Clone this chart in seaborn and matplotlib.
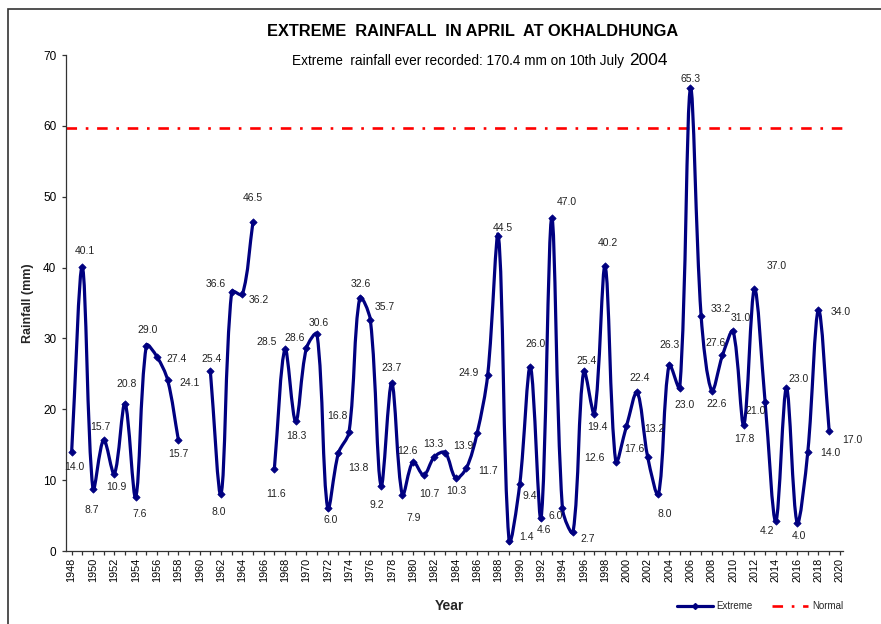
import matplotlib

matplotlib.use("Agg")

import matplotlib.pyplot as plt  # noqa: E402
import numpy as np  # noqa: E402
import seaborn as sns  # noqa: E402
from matplotlib.lines import Line2D  # noqa: E402
from matplotlib.patches import PathPatch, Rectangle  # noqa: E402
from matplotlib.path import Path  # noqa: E402

# Dados (NaN = ano sem registro)
years = list(range(1948, 2020))
rainfall = [
    14.0, 40.1, 8.7, 15.7, 10.9, 20.8, 7.6, 29.0, 27.4, 24.1, 15.7,  # 1948-1958
    np.nan, np.nan,                                                 # 1959-1960
    25.4, 8.0, 36.6, 36.2, 46.5,                                    # 1961-1965
    np.nan,                                                         # 1966
    11.6, 28.5, 18.3, 28.6, 30.6, 6.0, 13.8, 16.8, 35.7, 32.6,      # 1967-1976
    9.2, 23.7, 7.9, 12.6, 10.7, 13.3, 13.9, 10.3, 11.7, 16.6,       # 1977-1986
    24.9, 44.5, 1.4, 9.4, 26.0, 4.6, 47.0, 6.0, 2.7, 25.4,          # 1987-1996
    19.4, 40.2, 12.6, 17.6, 22.4, 13.2, 8.0, 26.3, 23.0, 65.3,      # 1997-2006
    33.2, 22.6, 27.6, 31.0, 17.8, 37.0, 21.0, 4.2, 23.0, 4.0,       # 2007-2016
    14.0, 34.0, 17.0,                                               # 2017-2019
]
unlabelled_years = [1986]
normal_value = 59.7

# Deslocamento (px) de cada rótulo em relação ao ponto: (dx, dy para baixo)
label_offsets = [
    (3, 15), (3, -16), (-1, 21), (-3, -13), (2, 13), (2, -20), (4, 17),
    (1, -16), (20, 2), (22, 3), (0, 14),
    None, None,
    (1, -12), (-2, 18), (-16, -8), (16, 6), (0, -24),
    None,
    (2, 25), (-18, -7), (1, 15), (-12, -10), (2, -11), (3, 12), (20, 15),
    (-12, -16), (25, 9), (-10, -36),
    (-4, 19), (0, -15), (11, 23), (-6, -11), (6, 19), (-1, -13), (18, -7),
    (1, 13), (22, 3), None,
    (-19, -2), (4, -8), (17, -4), (10, 12), (5, -23), (3, 12), (15, -16),
    (-7, 8), (15, 7), (3, -10),
    (3, 13), (3, -23), (-21, -4), (8, 23), (3, -14), (7, -28), (6, 20),
    (0, -20), (5, 17), (0, -9),
    (20, -7), (5, 13), (-7, -12), (8, -13), (1, 14), (22, -23), (-9, 9),
    (-9, 10), (12, -9), (2, 13),
    (23, 1), (22, 2), (23, 9),
]

NAVY = "#000080"
RED = "#ff0000"
INK = "#222222"
W, H = 881, 624

sns.set_style("ticks")
plt.rcParams["font.family"] = ["Liberation Sans", "DejaVu Sans"]

fig = plt.figure(figsize=(W / 100, H / 100), dpi=100)
ax = fig.add_axes([66 / W, 1 - 551 / H, (843 - 66) / W, (551 - 55) / H])
ax.set_xlim(1947.47, 2020.3)
ax.set_ylim(0, 70)


def smooth_path(xs, ys):
    """Curva suavizada estilo Excel: Catmull-Rom com pesos pelas cordas,
    calculada em pixels e devolvida em coordenadas de dados."""
    pts = ax.transData.transform(np.column_stack([xs, ys]))
    n = len(pts)
    verts = [pts[0]]
    codes = [Path.MOVETO]

    def ctrl(i):
        prev, nxt = pts[max(i - 1, 0)], pts[min(i + 1, n - 1)]
        d0 = np.hypot(*(pts[i] - prev))
        d1 = np.hypot(*(nxt - pts[i]))
        t = (nxt - prev) / 3
        tot = d0 + d1
        return pts[i] - t * d0 / tot, pts[i] + t * d1 / tot

    for i in range(n - 1):
        verts += [ctrl(i)[1], ctrl(i + 1)[0], pts[i + 1]]
        codes += [Path.CURVE4] * 3
    verts = ax.transData.inverted().transform(np.array(verts))
    return Path(verts, codes)


x = np.array(years, dtype=float)
y = np.array(rainfall, dtype=float)
valid = ~np.isnan(y)
# segmentos contínuos
edges = np.flatnonzero(np.diff(np.r_[0, valid.astype(int), 0]))
for start, stop in zip(edges[::2], edges[1::2]):
    patch = PathPatch(smooth_path(x[start:stop], y[start:stop]), facecolor="none",
                      edgecolor=NAVY, lw=2.3, capstyle="round", joinstyle="round",
                      zorder=3)
    ax.add_patch(patch)

sns.scatterplot(x=x[valid], y=y[valid], marker="D", s=14, color=NAVY,
                edgecolor=NAVY, linewidth=0.5, zorder=4, ax=ax, legend=False)

ax.axhline(normal_value, color=RED, lw=1.9, dashes=(4, 3.3, 1, 3.3), zorder=2)

for yr, val, off in zip(years, rainfall, label_offsets):
    if off is None or np.isnan(val) or yr in unlabelled_years:
        continue
    ax.annotate(f"{val:.1f}", (yr, val), xytext=(off[0] * 0.72, -off[1] * 0.72),
                textcoords="offset points", ha="center", va="center",
                fontsize=7.5, color=INK, zorder=5)

ax.set_xticks(range(1948, 2021, 2))
ax.set_xticks(range(1948, 2021), minor=True)
ax.set_xticklabels([str(v) for v in range(1948, 2021, 2)], rotation=90)
ax.set_yticks(range(0, 71, 10))
ax.tick_params(axis="both", which="both", direction="out", length=3,
               width=0.9, color="#333333", labelcolor="black", pad=2)
ax.tick_params(axis="x", labelsize=7.8)
ax.tick_params(axis="y", labelsize=8.5, pad=4)
ax.set_xlabel("")
ax.set_ylabel("")
for side in ("top", "right"):
    ax.spines[side].set_visible(False)
for side in ("left", "bottom"):
    ax.spines[side].set_color("#333333")
    ax.spines[side].set_linewidth(0.9)

fig.text(473 / W, 1 - 32 / H, "EXTREME  RAINFALL  IN APRIL  AT OKHALDHUNGA",
         ha="center", va="center", fontsize=11.8, fontweight="bold", color="black")
sub = fig.text(292 / W, 1 - 65 / H,
               "Extreme  rainfall ever recorded: 170.4 mm on 10th July ",
               ha="left", va="baseline", fontsize=9.8, color="black")
renderer = fig.canvas.get_renderer()
bb = sub.get_window_extent(renderer)
fig.text(bb.x1 / W + 0.002, 1 - 65 / H, "2004", ha="left", va="baseline",
         fontsize=12.5, color="black")

fig.text(28 / W, 1 - 303 / H, "Rainfall (mm)", rotation=90, ha="center",
         va="center", fontsize=9, fontweight="bold")
fig.text(449 / W, 1 - 606 / H, "Year", ha="center", va="center",
         fontsize=10, fontweight="bold")

handles = [
    Line2D([], [], color=NAVY, lw=2.3, marker="D", markersize=3),
    Line2D([], [], color=RED, lw=1.9, dashes=(4, 3.3, 1, 3.3)),
]
fig.legend(handles, ["Extreme", "Normal"], loc="center",
           bbox_to_anchor=(760 / W, 1 - 606 / H), ncol=2, frameon=False,
           fontsize=7, handlelength=3.7, handletextpad=0.4, columnspacing=2.0)

# moldura externa (cortada à direita e embaixo, como no original)
fig.patches.append(Rectangle((8 / W, -0.1), 1.2, 1 - 9 / H + 0.1,
                             transform=fig.transFigure, fill=False,
                             edgecolor="#333333", lw=1.2))

fig.savefig("out.png", dpi=100)
plt.close(fig)
